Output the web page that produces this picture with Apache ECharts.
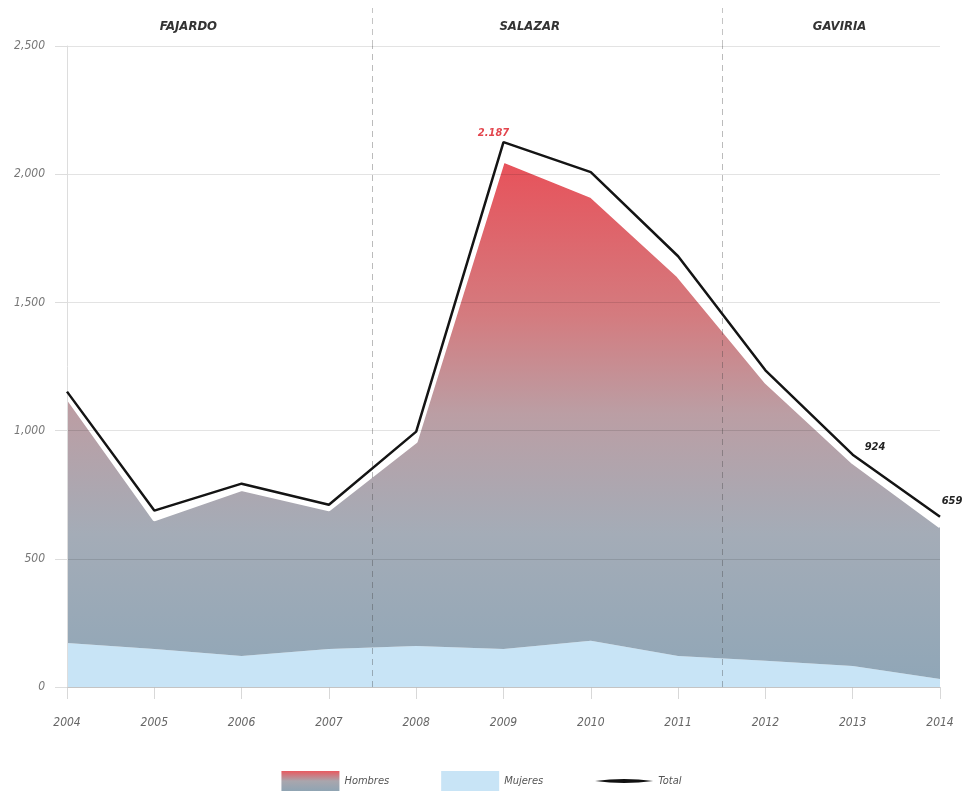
<!DOCTYPE html>
<html>
<head>
<meta charset="utf-8">
<script src="https://cdn.jsdelivr.net/npm/echarts@6/dist/echarts.min.js"></script>
<style>
html,body{margin:0;padding:0;background:#fff;}
#chart{width:963px;height:796px;}
</style>
</head>
<body>
<div id="chart"></div>
<script>
// ---- data ----
const years   = ['2004', '2005', '2006', '2007', '2008', '2009', '2010', '2011', '2012', '2013', '2014'];
const hombres = [957, 504, 649, 543, 797, 1903, 1734, 1481, 1088, 793, 594];
const mujeres = [172, 148, 121, 148, 160, 148, 180, 121, 102, 82, 31];
const total   = [1152, 688, 793, 711, 996, 2125, 2008, 1680, 1235, 906, 664];
const totalLabels = ['', '', '', '', '', '2.187', '', '', '', '924', '659'];
const periods = ['FAJARDO', 'SALAZAR', 'GAVIRIA'];
const periodBreaks = [3.5, 7.5];          // positions between category indices
const periodLabelPos = [1.39, 5.3, 8.85]; // category index positions of period titles

const FONT = "'Liberation Sans Narrow', 'DejaVu Sans Condensed', 'Roboto', sans-serif";

const chart = echarts.init(document.getElementById('chart'), null, {renderer: 'canvas'});

const labelStyles = {
  5: {show: true, position: 'top', distance: 4, offset: [-10, 0], color: '#e3454d', fontStyle: 'italic', fontWeight: 'bold', fontSize: 11, fontFamily: FONT},
  9: {show: true, position: 'right', distance: 4, offset: [8, -8], color: '#222', fontStyle: 'italic', fontWeight: 'bold', fontSize: 11, fontFamily: FONT},
  10: {show: true, position: 'top', distance: 4, offset: [12, -6], color: '#222', fontStyle: 'italic', fontWeight: 'bold', fontSize: 11, fontFamily: FONT}
};

const totalData = total.map((v, i) => {
  const item = {value: v};
  if (labelStyles[i]) item.label = labelStyles[i];
  return item;
});

const hombresGradient = new echarts.graphic.LinearGradient(0, 140, 0, 687, [
  {offset: 0, color: '#ea4c55'},
  {offset: 0.32, color: '#d47b7f'},
  {offset: 0.5, color: '#bb9ea4'},
  {offset: 0.72, color: '#a4acb7'},
  {offset: 1, color: '#8fa6b7'}
], true);

const legendHombres = new echarts.graphic.LinearGradient(0, 0, 0, 1, [
  {offset: 0, color: '#e85a60'},
  {offset: 0.5, color: '#a9a6ad'},
  {offset: 1, color: '#8fa4b3'}
]);

const sepLine = {type: [6, 5], color: 'rgba(60,60,60,0.35)', width: 1};

const option = {
  backgroundColor: '#fff',
  animation: false,
  textStyle: {fontFamily: FONT},
  grid: [{left: 67, right: 23, top: 46, bottom: 109}, {left: 67, right: 23, top: 8, height: 38}],
  xAxis: [{
    type: 'category', gridIndex: 0, data: years, boundaryGap: false,
    axisLine: {show: true, lineStyle: {color: '#dddddd'}},
    axisTick: {show: true, length: 12, lineStyle: {color: '#d8d8d8'}},
    splitLine: {show: false},
    axisLabel: {margin: 30, color: '#666', fontStyle: 'italic', fontSize: 12, fontFamily: FONT}
  }, {
    type: 'value', gridIndex: 0, min: 0, max: 10, show: false
  }, {
    type: 'value', gridIndex: 1, min: 0, max: 10, show: false
  }],
  yAxis: [{
    type: 'value', gridIndex: 0, min: 0, max: 2500, interval: 500, z: 1.5,
    axisLine: {show: true, lineStyle: {color: '#dddddd'}},
    axisTick: {show: true, length: 12, lineStyle: {color: '#dddddd'}},
    splitLine: {show: true, lineStyle: {color: 'rgba(0,0,0,0.11)', width: 1}},
    axisLabel: {margin: 22, color: '#777', fontStyle: 'italic', fontSize: 12, fontFamily: FONT,
      formatter: v => v.toLocaleString('en-US')}
  }, {
    type: 'value', gridIndex: 1, min: 0, max: 1, show: false
  }],
  legend: {
    bottom: 0, left: 'center', itemWidth: 58, itemHeight: 20, itemGap: 52,
    textStyle: {color: '#555', fontStyle: 'italic', fontSize: 11, fontFamily: FONT},
    data: [
      {name: 'Hombres', icon: 'rect', itemStyle: {color: legendHombres}},
      {name: 'Mujeres', icon: 'rect', itemStyle: {color: '#c8e4f6'}},
      {name: 'Total', icon: 'path://M0,2 Q30,-2 60,2 Q30,6 0,2Z', itemStyle: {color: '#111'}}
    ]
  },
  graphic: periods.map((p, i) => ({
    type: 'text', z: 10,
    x: 67 + periodLabelPos[i] * 87.3, y: 27,
    style: {text: p, textAlign: 'center', textVerticalAlign: 'middle', fill: '#333',
      font: "italic bold 13px " + FONT}
  })),
  series: [{
    name: 'Mujeres', type: 'line', stack: 'a', xAxisIndex: 0, yAxisIndex: 0, z: 1,
    data: mujeres, symbol: 'none',
    lineStyle: {width: 0},
    itemStyle: {color: '#c8e4f6'},
    areaStyle: {color: '#c8e4f6', opacity: 1}
  }, {
    name: 'Hombres', type: 'line', stack: 'a', xAxisIndex: 0, yAxisIndex: 0, z: 1,
    data: hombres, symbol: 'none',
    lineStyle: {width: 3, color: '#ffffff'},
    itemStyle: {color: '#d06a70'},
    areaStyle: {color: hombresGradient, opacity: 1}
  }, {
    name: 'Total', type: 'line', xAxisIndex: 0, yAxisIndex: 0, z: 3,
    data: totalData,
    symbol: 'circle', symbolSize: 0, showSymbol: true,
    lineStyle: {width: 2.5, color: '#141414'},
    itemStyle: {color: '#141414'},
    label: {show: false, formatter: p => totalLabels[p.dataIndex]}
  }, {
    name: 'sep', type: 'line', xAxisIndex: 1, yAxisIndex: 0, z: 2,
    data: [[0, -100]], symbol: 'none', lineStyle: {width: 0},
    markLine: {silent: true, symbol: 'none', label: {show: false}, lineStyle: sepLine,
      data: periodBreaks.map(x => ({xAxis: x}))}
  }, {
    name: 'sep2', type: 'line', xAxisIndex: 2, yAxisIndex: 1,
    data: [[0, -1]], symbol: 'none', lineStyle: {width: 0},
    markLine: {silent: true, symbol: 'none', label: {show: false},
      lineStyle: {type: [6, 5], color: 'rgba(60,60,60,0.3)', width: 1},
      data: periodBreaks.map(x => ({xAxis: x}))}
  }]
};

chart.setOption(option);
</script>
</body>
</html>
